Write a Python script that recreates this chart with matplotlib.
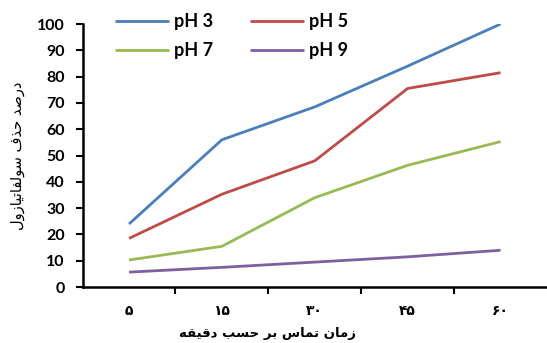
import matplotlib
matplotlib.use("Agg")
import matplotlib.pyplot as plt

# --- data ---
times = ["\u06f5", "\u06f1\u06f5", "\u06f3\u06f0", "\u06f4\u06f5", "\u06f6\u06f0"]  # 5 15 30 45 60 in Persian digits
ph3 = [24, 56, 68.5, 84, 100]
ph5 = [18.5, 35.3, 48, 75.5, 81.5]
ph7 = [10.3, 15.5, 34, 46.3, 55.3]
ph9 = [5.7, 7.5, 9.5, 11.5, 14]
series_names = ["pH 3", "pH 5", "pH 7", "pH 9"]
colors = ["#4A7EBB", "#BE4B48", "#98B954", "#7D60A0"]

ylabel_txt = "درصد حذف سولفاتیازول"
xlabel_txt = "زمان تماس بر حسب دقیقه"

# matplotlib has no arabic shaping, so do it by hand with presentation forms
# letter: (isolated, final, initial, medial) ; None = does not join forward
FORMS = {
    "ا": (0xFE8D, 0xFE8E, None, None), "ب": (0xFE8F, 0xFE90, 0xFE91, 0xFE92),
    "ت": (0xFE95, 0xFE96, 0xFE97, 0xFE98), "ح": (0xFEA1, 0xFEA2, 0xFEA3, 0xFEA4),
    "د": (0xFEA9, 0xFEAA, None, None), "ذ": (0xFEAB, 0xFEAC, None, None),
    "ر": (0xFEAD, 0xFEAE, None, None), "ز": (0xFEAF, 0xFEB0, None, None),
    "س": (0xFEB1, 0xFEB2, 0xFEB3, 0xFEB4), "ص": (0xFEB9, 0xFEBA, 0xFEBB, 0xFEBC),
    "ف": (0xFED1, 0xFED2, 0xFED3, 0xFED4), "ق": (0xFED5, 0xFED6, 0xFED7, 0xFED8),
    "ل": (0xFEDD, 0xFEDE, 0xFEDF, 0xFEE0), "م": (0xFEE1, 0xFEE2, 0xFEE3, 0xFEE4),
    "ن": (0xFEE5, 0xFEE6, 0xFEE7, 0xFEE8), "ه": (0xFEE9, 0xFEEA, 0xFEEB, 0xFEEC),
    "و": (0xFEED, 0xFEEE, None, None), "ی": (0xFBFC, 0xFBFD, 0xFBFE, 0xFBFF),
}


def shape(text):
    out = []
    for i, ch in enumerate(text):
        if ch not in FORMS:
            out.append(ch)
            continue
        prev = text[i - 1] if i > 0 else " "
        nxt = text[i + 1] if i + 1 < len(text) else " "
        join_prev = prev in FORMS and FORMS[prev][2] is not None
        join_next = nxt in FORMS and FORMS[ch][2] is not None
        iso, fin, ini, med = FORMS[ch]
        if join_prev and join_next:
            cp = med
        elif join_prev:
            cp = fin
        elif join_next:
            cp = ini
        else:
            cp = iso
        out.append(chr(cp))
    return "".join(out)[::-1]


fam = ["Lato", "DejaVu Sans"]
plt.rcParams["font.family"] = fam

fig = plt.figure(figsize=(5.47, 3.43), dpi=100)
ax = fig.add_axes([0.151, 0.163, 0.849, 0.767])

x = list(range(len(times)))
lines = []
for vals, name, c in zip([ph3, ph5, ph7, ph9], series_names, colors):
    ln, = ax.plot(x, vals, color=c, lw=2.0, label=name, solid_capstyle="butt")
    lines.append(ln)

ax.set_xlim(-0.5, 4.5)
ax.set_ylim(0, 100)
ax.set_yticks(range(0, 101, 10))
ax.set_yticklabels([str(v) for v in range(0, 101, 10)], fontsize=11.5, fontweight="bold")
ax.set_xticks(x)
ax.set_xticklabels(times, fontsize=10, fontweight="bold", family=["DejaVu Sans"])
ax.set_xticks([0.5, 1.5, 2.5, 3.5], minor=True)
ax.tick_params(axis="x", which="major", length=0, pad=12)
ax.tick_params(axis="x", which="minor", length=5, width=1.5)
ax.tick_params(axis="y", length=5, width=1.5, pad=8)

for s in ["top", "right"]:
    ax.spines[s].set_visible(False)
for s in ["left", "bottom"]:
    ax.spines[s].set_linewidth(1.8)

ax.set_ylabel(shape(ylabel_txt), fontsize=10.5, family=["DejaVu Sans"])
ax.yaxis.set_label_coords(-0.124, 0.5)
ax.set_xlabel(shape(xlabel_txt), fontsize=9.5, fontweight="bold", family=["DejaVu Sans"])
ax.xaxis.set_label_coords(0.399, -0.15)

# row-major order like the reference: pH3 pH5 / pH7 pH9
order = [0, 2, 1, 3]
leg = fig.legend([lines[i] for i in order], [series_names[i] for i in order],
                 loc="upper left", bbox_to_anchor=(0.18, 1.01), ncol=2, frameon=False,
                 prop={"weight": "bold", "size": 13}, handlelength=3.0,
                 columnspacing=2.0, labelspacing=0.7, handletextpad=0.3)

fig.savefig("out.png", dpi=100)
